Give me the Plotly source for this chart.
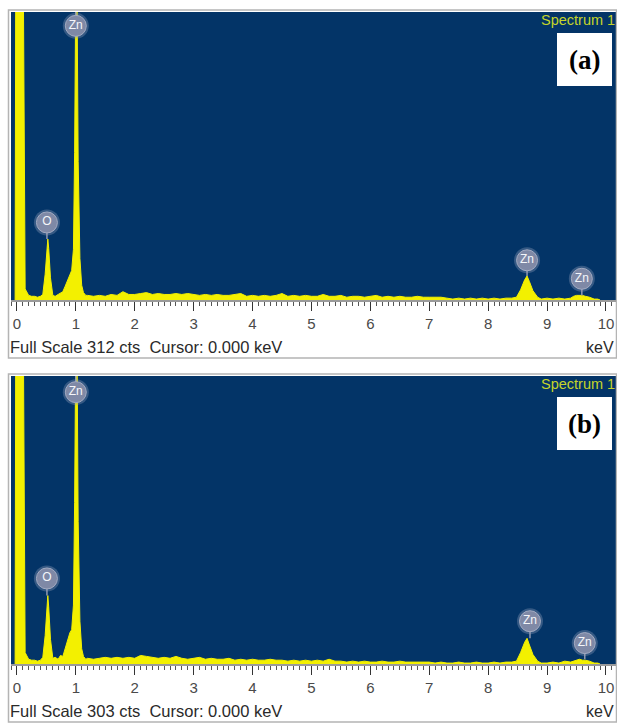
import plotly.graph_objects as go

W, H = 617, 723

# ---------------- data ----------------
energy_low = [-0.03, -0.02, 0.11, 0.14, 0.2, 0.25, 0.3, 0.35, 0.4, 0.44, 0.48, 0.51, 0.525, 0.54,
              0.57, 0.61, 0.65, 0.7, 0.74, 0.78, 0.82, 0.86, 0.9, 0.93, 0.96, 0.98, 1.0, 1.02,
              1.04, 1.07, 1.1, 1.13, 1.17]
energy_mid = [1.2, 1.3, 1.4, 1.5, 1.6, 1.7, 1.8, 1.9, 2.0, 2.1, 2.2, 2.3, 2.4, 2.5, 2.6, 2.7,
              2.8, 2.9, 3.0, 3.1, 3.2, 3.3, 3.4, 3.5, 3.6, 3.7, 3.8, 3.9, 4.0, 4.1, 4.2, 4.3,
              4.4, 4.5, 4.6, 4.7, 4.8, 4.9, 5.0, 5.1, 5.2, 5.3, 5.4, 5.5, 5.6, 5.7, 5.8, 5.9,
              6.0, 6.1, 6.2, 6.3, 6.4, 6.5, 6.6, 6.7, 6.8, 6.9, 7.0, 7.1, 7.2, 7.3, 7.4, 7.5,
              7.6, 7.7, 7.8, 7.9, 8.0, 8.1, 8.2, 8.3, 8.4]
energy_high = [8.48, 8.55, 8.62, 8.66, 8.7, 8.76, 8.84, 8.9, 9.0, 9.1, 9.2, 9.3, 9.4, 9.45,
               9.5, 9.55, 9.6, 9.65, 9.72, 9.8, 9.86, 9.9]

counts_a_low = [0, 340, 340, 12, 5, 4, 4, 3, 4, 6, 28, 58, 66, 56, 24, 5, 4, 6, 8, 9, 15, 22,
                29, 32, 55, 160, 340, 340, 150, 45, 16, 8, 5]
counts_a_mid = [5, 4, 5, 4, 6, 5, 9, 6, 6, 7, 8, 6, 7, 6, 6, 7, 6, 7, 6, 5, 6, 5, 6, 5, 5, 6,
                7, 4, 5, 4, 5, 4, 5, 7, 4, 5, 4, 5, 4, 4, 6, 4, 4, 5, 3, 4, 4, 3, 4, 5, 3, 4,
                3, 4, 3, 3, 4, 3, 3, 3, 3, 2, 1, 2, 1, 2, 1, 2, 1, 2, 1, 2, 2]
counts_a_high = [3, 11, 22, 26, 20, 10, 3, 1, 2, 1, 2, 1, 2, 4, 5, 5, 5, 4, 3, 1, 1, 0]

counts_b_low = [0, 340, 340, 12, 5, 4, 4, 3, 4, 7, 30, 62, 72, 60, 26, 6, 7, 5, 9, 8, 16, 25,
                33, 36, 62, 170, 340, 340, 150, 45, 16, 8, 5]
counts_b_mid = [6, 5, 6, 7, 6, 7, 6, 7, 6, 9, 8, 7, 6, 7, 6, 8, 6, 5, 6, 7, 5, 6, 5, 5, 6, 4,
                5, 4, 5, 4, 4, 5, 4, 4, 3, 4, 3, 4, 3, 4, 3, 5, 3, 3, 2, 3, 2, 3, 2, 2, 3, 2,
                2, 3, 2, 2, 2, 2, 2, 1, 2, 1, 1, 2, 1, 1, 2, 1, 1, 2, 1, 2, 2]
counts_b_high = [3, 12, 23, 27, 20, 10, 3, 1, 1, 2, 1, 3, 2, 3, 4, 5, 4, 4, 3, 1, 1, 0]

full_scale = [312, 303]
panel_tags = ["(a)", "(b)"]
tick_labels = [str(i) for i in range(11)]

# element labels: energy, label height (cts), peak top (cts)
label_text = ["Zn", "O", "Zn", "Zn"]
label_energy_a = [1.00, 0.51, 8.66, 9.59]
label_count_a = [297, 84, 43, 23]
label_peak_a = [312, 66, 26, 5]
label_energy_b = [1.00, 0.51, 8.71, 9.64]
label_count_b = [286, 90, 45, 22]
label_peak_b = [303, 72, 27, 5]

# ---------------- styling ----------------
BLUE = "#033467"
YELLOW = "#f3f000"
X0_PX, X1_PX = 11, 616
panels_px = [(12, 300), (376, 664)]   # top, bottom of blue plot area
FONT = "Liberation Sans, Arial"


def px_x(x):
    return x / W


def px_y(y):
    return 1 - y / H


energy = energy_low + energy_mid + energy_high
counts = [counts_a_low + counts_a_mid + counts_a_high,
          counts_b_low + counts_b_mid + counts_b_high]
labels = [(label_energy_a, label_count_a, label_peak_a),
          (label_energy_b, label_count_b, label_peak_b)]

fig = go.Figure()
shapes = []
annotations = []
layout_axes = {}

for i in range(2):
    xa = "x" if i == 0 else "x2"
    ya = "y" if i == 0 else "y2"
    top, bot = panels_px[i]

    fig.add_trace(go.Scatter(x=energy, y=counts[i], mode="lines", fill="tozeroy",
                             line=dict(color=YELLOW, width=1), fillcolor=YELLOW,
                             xaxis=xa, yaxis=ya, hoverinfo="skip", showlegend=False))

    le, lc, lp = labels[i]
    # stems
    for e, c, p in zip(le, lc, lp):
        fig.add_trace(go.Scatter(x=[e, e], y=[c, p], mode="lines",
                                 line=dict(color="#8f98b0", width=1.5),
                                 xaxis=xa, yaxis=ya, hoverinfo="skip", showlegend=False))
    # halo
    fig.add_trace(go.Scatter(x=le, y=lc, mode="markers",
                             marker=dict(size=26, color="rgba(150,160,185,0.35)", line=dict(width=0)),
                             xaxis=xa, yaxis=ya, hoverinfo="skip", showlegend=False))
    fig.add_trace(go.Scatter(x=le, y=lc, mode="markers+text", text=label_text,
                             textposition="middle center",
                             textfont=dict(family=FONT, size=12, color="#f4f6fa"),
                             marker=dict(size=21, color="#7f89a6", line=dict(width=1, color="#a3abc2")),
                             xaxis=xa, yaxis=ya, hoverinfo="skip", showlegend=False))

    layout_axes["xaxis" if i == 0 else "xaxis2"] = dict(
        domain=[px_x(X0_PX), px_x(X1_PX)], range=[-0.1, 10.17], anchor=ya,
        tickmode="array", tickvals=list(range(11)), ticktext=tick_labels,
        ticks="outside", ticklen=9, tickwidth=1, tickcolor="#333",
        showline=True, linecolor="#9a9a9a", linewidth=2,
        tickfont=dict(family=FONT, size=15, color="#4a4a4a"),
        minor=dict(dtick=0.1, tick0=0, ticks="outside", ticklen=4, tickcolor="#555", tickwidth=1,
                   showgrid=False),
        showgrid=False, zeroline=False, fixedrange=True)
    layout_axes["yaxis" if i == 0 else "yaxis2"] = dict(
        domain=[px_y(bot), px_y(top)], range=[0, full_scale[i]], anchor=xa,
        visible=False, showgrid=False, zeroline=False, fixedrange=True)

    # panel border
    shapes.append(dict(type="rect", xref="paper", yref="paper",
                       x0=px_x(8.5), x1=px_x(616.5), y0=px_y(top + 346), y1=px_y(top - 2),
                       line=dict(color="#b4b4b4", width=1.5), fillcolor="rgba(0,0,0,0)", layer="below"))
    # tag box
    shapes.append(dict(type="rect", xref="paper", yref="paper",
                       x0=px_x(557), x1=px_x(612), y0=px_y(top + 74), y1=px_y(top + 21),
                       line=dict(width=0), fillcolor="white", layer="above"))
    annotations.append(dict(text="<b>" + panel_tags[i] + "</b>", xref="paper", yref="paper",
                            x=px_x(584.5), y=px_y(top + 48), showarrow=False,
                            font=dict(family="Liberation Serif, Times New Roman", size=27, color="black"),
                            xanchor="center", yanchor="middle"))
    annotations.append(dict(text="Spectrum 1", xref="paper", yref="paper",
                            x=px_x(617), y=px_y(top + 8), showarrow=False,
                            font=dict(family=FONT, size=14.5, color="#c6d42a"),
                            xanchor="right", yanchor="middle"))
    annotations.append(dict(text="Full Scale %d cts  Cursor: 0.000 keV" % full_scale[i],
                            xref="paper", yref="paper",
                            x=px_x(8), y=px_y(top + 335), showarrow=False,
                            font=dict(family=FONT, size=16.5, color="#2a2a2a"),
                            xanchor="left", yanchor="middle"))
    annotations.append(dict(text="keV", xref="paper", yref="paper",
                            x=px_x(616), y=px_y(top + 335), showarrow=False,
                            font=dict(family=FONT, size=16, color="#2a2a2a"),
                            xanchor="right", yanchor="middle"))

fig.update_layout(width=W, height=H, autosize=False,
                  margin=dict(l=0, r=0, t=0, b=0),
                  paper_bgcolor="white", plot_bgcolor=BLUE,
                  shapes=shapes, annotations=annotations, showlegend=False,
                  **layout_axes)

fig.write_html("out.html", config={"displayModeBar": False},
               post_script="document.body.style.margin='0';document.body.style.padding='0';"
                           "document.body.style.overflow='hidden';"
                           "document.documentElement.style.overflow='hidden';")
